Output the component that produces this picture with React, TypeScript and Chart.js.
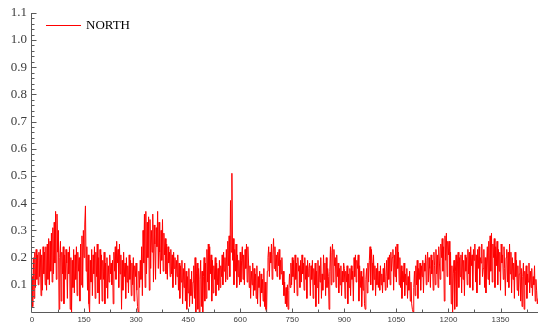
import { useEffect, useRef } from "react";
import { Chart, registerables } from "chart.js";

Chart.register(...registerables);

const seriesName = "NORTH";
const sampleStep = 2; // index spacing between stored samples
const xMax = 1458;
const yMin = 0;
const yMax = 1.1;

// NORTH readings, index 0–98
const northA = [
  0.13, 0.02, 0.2, 0.05, 0.22, 0.09, 0.23, 0.12, 0.21, 0.1,
  0.22, 0.13, 0.23, 0.06, 0.21, 0.08, 0.24, 0.14, 0.22, 0.1,
  0.24, 0.08, 0.25, 0.12, 0.27, 0.1, 0.26, 0.15, 0.29, 0.11,
  0.31, 0.14, 0.33, 0.18, 0.37, 0.12, 0.36, 0.22, 0.3, 0.01,
  0.2, 0.26, 0.04, 0.22, 0.14, 0.24, 0.03, 0.21, 0.12, 0.23,
];
// index 100–198
const northB = [
  0.18, 0.05, 0.22, 0.14, 0.24, 0.01, 0.2, 0.0, 0.19, 0.09,
  0.23, 0.07, 0.21, 0.12, 0.24, 0.06, 0.22, 0.15, 0.2, 0.04,
  0.25, 0.1, 0.28, 0.09, 0.3, 0.2, 0.32, 0.39, 0.15, 0.24,
  0.08, 0.21, 0.03, 0.0, 0.19, 0.11, 0.23, 0.06, 0.21, 0.14,
  0.24, 0.05, 0.22, 0.13, 0.25, 0.07, 0.2, 0.03, 0.23, 0.12,
];
// index 200–298
const northC = [
  0.21, 0.04, 0.19, 0.12, 0.22, 0.03, 0.18, 0.09, 0.2, 0.05,
  0.17, 0.11, 0.21, 0.14, 0.18, 0.1, 0.19, 0.03, 0.22, 0.15,
  0.24, 0.12, 0.26, 0.18, 0.23, 0.09, 0.25, 0.14, 0.21, 0.01,
  0.19, 0.08, 0.22, 0.13, 0.18, 0.05, 0.2, 0.11, 0.17, 0.07,
  0.21, 0.12, 0.19, 0.06, 0.18, 0.1, 0.2, 0.04, 0.17, 0.13,
];
// index 300–398
const northD = [
  0.18, 0.08, 0.02, 0.0, 0.15, 0.09, 0.19, 0.12, 0.24, 0.06,
  0.3, 0.18, 0.36, 0.09, 0.37, 0.14, 0.33, 0.2, 0.35, 0.08,
  0.34, 0.16, 0.3, 0.22, 0.36, 0.11, 0.32, 0.25, 0.12, 0.31,
  0.24, 0.37, 0.16, 0.33, 0.22, 0.14, 0.3, 0.19, 0.34, 0.15,
  0.29, 0.21, 0.27, 0.14, 0.25, 0.12, 0.24, 0.18, 0.22, 0.13,
];
// index 400–498
const northE = [
  0.23, 0.14, 0.21, 0.09, 0.22, 0.16, 0.2, 0.1, 0.19, 0.13,
  0.21, 0.08, 0.18, 0.05, 0.17, 0.11, 0.19, 0.03, 0.16, 0.09,
  0.18, 0.04, 0.15, 0.01, 0.13, 0.07, 0.16, 0.02, 0.12, 0.06,
  0.15, 0.03, 0.11, 0.17, 0.05, 0.2, 0.0, 0.14, 0.18, 0.01,
  0.16, 0.0, 0.12, 0.19, 0.02, 0.15, 0.0, 0.13, 0.2, 0.04,
];
// index 500–598
const northF = [
  0.18, 0.05, 0.23, 0.11, 0.25, 0.08, 0.24, 0.14, 0.21, 0.04,
  0.19, 0.07, 0.17, 0.12, 0.2, 0.06, 0.18, 0.1, 0.16, 0.08,
  0.19, 0.09, 0.17, 0.13, 0.21, 0.1, 0.22, 0.15, 0.2, 0.11,
  0.23, 0.12, 0.26, 0.17, 0.28, 0.13, 0.41, 0.22, 0.51, 0.19,
  0.27, 0.1, 0.23, 0.15, 0.25, 0.09, 0.21, 0.13, 0.19, 0.1,
];
// index 600–698
const northG = [
  0.22, 0.11, 0.19, 0.24, 0.12, 0.21, 0.1, 0.23, 0.16, 0.25,
  0.11, 0.24, 0.18, 0.09, 0.17, 0.05, 0.15, 0.1, 0.18, 0.06,
  0.16, 0.08, 0.14, 0.05, 0.17, 0.03, 0.13, 0.09, 0.15, 0.02,
  0.14, 0.07, 0.12, 0.04, 0.16, 0.02, 0.11, 0.01, 0.0, 0.15,
  0.2, 0.24, 0.13, 0.22, 0.18, 0.25, 0.12, 0.21, 0.27, 0.16,
];
// index 700–798
const northH = [
  0.24, 0.15, 0.21, 0.13, 0.22, 0.17, 0.23, 0.12, 0.19, 0.14,
  0.2, 0.1, 0.15, 0.06, 0.11, 0.03, 0.09, 0.02, 0.1, 0.01,
  0.08, 0.14, 0.09, 0.18, 0.1, 0.2, 0.13, 0.19, 0.07, 0.21,
  0.12, 0.18, 0.06, 0.2, 0.15, 0.17, 0.09, 0.19, 0.11, 0.21,
  0.14, 0.18, 0.08, 0.2, 0.12, 0.17, 0.05, 0.19, 0.13, 0.16,
];
// index 800–898
const northI = [
  0.18, 0.06, 0.17, 0.12, 0.19, 0.05, 0.16, 0.1, 0.18, 0.02,
  0.15, 0.09, 0.19, 0.03, 0.17, 0.11, 0.2, 0.05, 0.14, 0.08,
  0.21, 0.12, 0.18, 0.06, 0.2, 0.09, 0.16, 0.13, 0.01, 0.15,
  0.24, 0.1, 0.22, 0.25, 0.11, 0.23, 0.17, 0.2, 0.09, 0.21,
  0.13, 0.18, 0.07, 0.16, 0.1, 0.17, 0.06, 0.15, 0.11, 0.18,
];
// index 900–998
const northJ = [
  0.16, 0.05, 0.15, 0.11, 0.17, 0.03, 0.14, 0.09, 0.16, 0.06,
  0.17, 0.12, 0.15, 0.04, 0.2, 0.13, 0.21, 0.11, 0.19, 0.16,
  0.21, 0.04, 0.17, 0.09, 0.15, 0.02, 0.13, 0.08, 0.16, 0.03,
  0.01, 0.12, 0.16, 0.07, 0.18, 0.11, 0.19, 0.24, 0.1, 0.23,
  0.18, 0.08, 0.21, 0.12, 0.17, 0.06, 0.16, 0.1, 0.18, 0.09,
];
// index 1000–1098
const northK = [
  0.15, 0.08, 0.17, 0.1, 0.14, 0.07, 0.16, 0.11, 0.18, 0.08,
  0.13, 0.19, 0.09, 0.2, 0.12, 0.21, 0.1, 0.22, 0.15, 0.2,
  0.23, 0.08, 0.21, 0.13, 0.24, 0.11, 0.25, 0.16, 0.22, 0.1,
  0.2, 0.09, 0.17, 0.05, 0.15, 0.11, 0.18, 0.06, 0.14, 0.1,
  0.16, 0.05, 0.13, 0.08, 0.15, 0.04, 0.11, 0.03, 0.01, 0.0,
];
// index 1100–1198
const northL = [
  0.09, 0.15, 0.06, 0.17, 0.1, 0.19, 0.05, 0.16, 0.12, 0.18,
  0.08, 0.17, 0.13, 0.19, 0.07, 0.18, 0.15, 0.21, 0.1, 0.19,
  0.22, 0.11, 0.2, 0.16, 0.09, 0.21, 0.14, 0.19, 0.08, 0.22,
  0.17, 0.1, 0.23, 0.14, 0.21, 0.09, 0.24, 0.18, 0.12, 0.25,
  0.2, 0.27, 0.15, 0.24, 0.04, 0.28, 0.19, 0.29, 0.13, 0.26,
];
// index 1200–1298
const northM = [
  0.21, 0.26, 0.1, 0.22, 0.03, 0.17, 0.0, 0.14, 0.19, 0.01,
  0.15, 0.21, 0.02, 0.18, 0.22, 0.09, 0.2, 0.13, 0.21, 0.07,
  0.22, 0.12, 0.19, 0.06, 0.21, 0.15, 0.2, 0.1, 0.23, 0.14,
  0.22, 0.09, 0.24, 0.17, 0.21, 0.08, 0.23, 0.19, 0.25, 0.11,
  0.21, 0.07, 0.23, 0.16, 0.24, 0.1, 0.2, 0.18, 0.25, 0.13,
];
// index 1300–1398
const northN = [
  0.16, 0.23, 0.09, 0.2, 0.07, 0.18, 0.24, 0.12, 0.26, 0.1,
  0.28, 0.15, 0.29, 0.11, 0.25, 0.2, 0.27, 0.09, 0.24, 0.17,
  0.26, 0.1, 0.23, 0.15, 0.22, 0.08, 0.25, 0.18, 0.21, 0.12,
  0.24, 0.16, 0.06, 0.2, 0.23, 0.11, 0.22, 0.09, 0.25, 0.14,
  0.22, 0.07, 0.2, 0.12, 0.18, 0.05, 0.22, 0.13, 0.19, 0.08,
];
// index 1400–1458
const northO = [
  0.17, 0.06, 0.14, 0.19, 0.04, 0.16, 0.02, 0.13, 0.18, 0.01,
  0.15, 0.1, 0.17, 0.05, 0.14, 0.11, 0.18, 0.07, 0.15, 0.09,
  0.16, 0.06, 0.13, 0.1, 0.17, 0.04, 0.12, 0.08, 0.03, 0.05,
];

const northValues = [
  ...northA, ...northB, ...northC, ...northD, ...northE,
  ...northF, ...northG, ...northH, ...northI, ...northJ,
  ...northK, ...northL, ...northM, ...northN, ...northO,
];

const xTickValues = [0, 150, 300, 450, 600, 750, 900, 1050, 1200, 1350];
const xMinorTickValues = [75, 225, 375, 525, 675, 825, 975, 1125, 1275, 1425];
const yTickValues = [0.1, 0.2, 0.3, 0.4, 0.5, 0.6, 0.7, 0.8, 0.9, 1.0, 1.1];

const AXIS_COLOR = "#5a5a5a";
const LABEL_COLOR = "#3c3c3c";
const LINE_COLOR = "#ff0000";

// Axes with inward tick marks, plus the inset legend
const axesPlugin = {
  id: "framedAxes",
  afterDraw(chart: any) {
    const { ctx, chartArea, scales } = chart;
    const xs = scales.x;
    const ys = scales.y;
    const ax = Math.round(chartArea.left) - 0.5;
    const ay = Math.round(chartArea.bottom) + 0.5;
    ctx.save();
    ctx.strokeStyle = AXIS_COLOR;
    ctx.lineWidth = 1;
    ctx.beginPath();
    ctx.moveTo(ax, Math.round(chartArea.top));
    ctx.lineTo(ax, ay);
    ctx.lineTo(Math.round(chartArea.right), ay);
    ctx.stroke();

    // y ticks: major every 0.1, minor every 0.02
    ctx.beginPath();
    for (let k = 1; k <= 55; k++) {
      const v = k * 0.02;
      const py = Math.round(ys.getPixelForValue(v)) + 0.5;
      const major = k % 5 === 0;
      ctx.moveTo(ax, py);
      ctx.lineTo(ax + (major ? 5 : 3), py);
    }
    // x ticks
    xTickValues.forEach((v) => {
      if (v === 0) return;
      const px = Math.round(xs.getPixelForValue(v)) + 0.5;
      ctx.moveTo(px, ay);
      ctx.lineTo(px, ay - 4);
    });
    xMinorTickValues.forEach((v) => {
      const px = Math.round(xs.getPixelForValue(v)) + 0.5;
      ctx.moveTo(px, ay);
      ctx.lineTo(px, ay - 3);
    });
    ctx.stroke();

    // legend
    ctx.fillStyle = LINE_COLOR;
    ctx.fillRect(46, 25, 35, 1);
    ctx.fillStyle = "#000";
    ctx.font = "13px 'Liberation Serif', serif";
    ctx.textBaseline = "middle";
    ctx.textAlign = "left";
    ctx.fillText(seriesName, 86, 26);
    ctx.restore();
  },
};

export default function App() {
  const canvasRef = useRef<HTMLCanvasElement | null>(null);

  useEffect(() => {
    const canvas = canvasRef.current;
    if (!canvas) return;
    const points = northValues.map((v, i) => ({ x: i * sampleStep, y: v }));
    const chart = new Chart(canvas, {
      type: "line",
      data: {
        datasets: [
          {
            label: seriesName,
            data: points,
            borderColor: LINE_COLOR,
            borderWidth: 1,
            pointRadius: 0,
            tension: 0,
            fill: false,
          },
        ],
      },
      options: {
        animation: false,
        responsive: false,
        maintainAspectRatio: false,
        layout: { padding: { top: 8, right: 2, left: 0, bottom: 0 } },
        plugins: {
          legend: { display: false },
          tooltip: { enabled: false },
        },
        scales: {
          x: {
            type: "linear",
            min: 0,
            max: xMax,
            grid: { display: false, drawTicks: false },
            border: { display: false },
            afterBuildTicks: (scale: any) => {
              scale.ticks = xTickValues.map((v) => ({ value: v }));
            },
            afterFit: (scale: any) => {
              scale.height = 16;
            },
            ticks: {
              autoSkip: false,
              maxRotation: 0,
              padding: 3,
              color: LABEL_COLOR,
              font: { family: "'Liberation Sans', sans-serif", size: 8 },
              callback: (v: any) => String(v),
            },
          },
          y: {
            type: "linear",
            min: yMin,
            max: yMax,
            grid: { display: false, drawTicks: false },
            border: { display: false },
            afterBuildTicks: (scale: any) => {
              scale.ticks = yTickValues.map((v) => ({ value: v }));
            },
            afterFit: (scale: any) => {
              scale.width = 32;
            },
            ticks: {
              autoSkip: false,
              padding: 5,
              color: LABEL_COLOR,
              font: { family: "'Liberation Serif', serif", size: 13 },
              callback: (v: any) => Number(v).toFixed(1),
            },
          },
        },
      },
      plugins: [axesPlugin],
    });
    return () => chart.destroy();
  }, []);

  return (
    <div style={{ position: "fixed", left: 0, top: 0, width: 540, height: 328, background: "#fff" }}>
      <canvas ref={canvasRef} width={540} height={328} style={{ display: "block" }} />
    </div>
  );
}
